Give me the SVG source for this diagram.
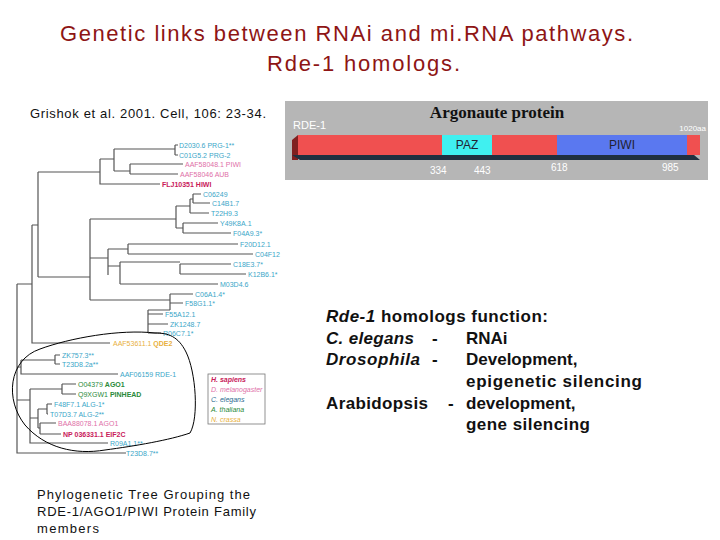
<svg xmlns="http://www.w3.org/2000/svg" width="720" height="540" viewBox="0 0 720 540">
<style>
.t{font-family:"Liberation Sans",Arial,sans-serif}
.tr{stroke:#555;stroke-width:1.2;fill:none}
.l{font-family:"Liberation Sans",Arial,sans-serif;font-size:7px}
.c{fill:#3aa6c8}.d{fill:#e070a8}.h{fill:#c8205a;font-weight:bold}.a{fill:#2a8a3a}.n{fill:#e8b040}
.rt{font-family:"Liberation Sans",Arial,sans-serif;font-size:17px;font-weight:bold;fill:#111}
.w{font-family:"Liberation Sans",Arial,sans-serif;fill:#fff}
</style>
<rect width="720" height="540" fill="#fff"/>
<g id="title" class="t" fill="#8e1515" font-size="22">
<text x="60" y="41" textLength="573" lengthAdjust="spacing">Genetic links between RNAi and mi.RNA pathways.</text>
<text x="267" y="71" textLength="193" lengthAdjust="spacing">Rde-1 homologs.</text>
</g>
<text id="cite" class="t" x="30" y="118" font-size="13" fill="#111" textLength="236" lengthAdjust="spacing">Grishok et al. 2001. Cell, 106: 23-34.</text>
<g id="protein">
<rect x="285" y="101" width="423" height="79" fill="#b6b6b6"/>
<text x="497" y="118" text-anchor="middle" font-family="Liberation Serif,serif" font-weight="bold" font-size="17" fill="#111">Argonaute protein</text>
<text class="w" x="293" y="129" font-size="11">RDE-1</text>
<text class="w" x="706" y="131" font-size="8" text-anchor="end">1020aa</text>
<polygon points="292,140 298,135 298,160 292,160" fill="#802020"/>
<polygon points="292,155 300,160 700,160 694,155" fill="#203040"/>
<rect x="298" y="135" width="402" height="20" fill="#f05050"/>
<rect x="442" y="135" width="50" height="20" fill="#40f0f0"/>
<rect x="557" y="135" width="130" height="20" fill="#5a78f0"/>
<text x="467" y="149" text-anchor="middle" class="t" font-size="12" fill="#223">PAZ</text>
<text x="622" y="149" text-anchor="middle" class="t" font-size="12" fill="#223">PIWI</text>
<g class="w" font-size="10"><text x="430" y="174">334</text><text x="474" y="174">443</text><text x="551" y="171">618</text><text x="662" y="171">985</text></g>
</g>
<g id="tree" class="tr">
<path d="M17,284 V453 H126"/>
<path d="M17,284 H32 M32,225 V343 H110"/>
<path d="M32,225 H38 M38,172 V277"/>
<path d="M38,172 H100 M100,159 V184 H160 M100,159 H114 M114,149 V171 M114,149 H175 M175,145 V155 M175,145 H178 M175,155 H178 M114,171 H130 M130,164 V174 M130,164 H183 M130,174 H178"/>
<path d="M38,277 H90 M90,219 V300"/>
<path d="M90,219 H176 M176,206 V228 M176,206 H190 M190,199 V213 M190,199 H193 M193,194 V203 M193,194 H201 M193,203 H210 M190,213 H209 M176,228 H183 M183,223 V233 M183,223 H218 M183,233 H231"/>
<path d="M90,258 H108 M108,249 V275 M108,249 H128 M128,244 V254 M128,244 H238 M128,254 H253 M108,266 H120 M120,262 V284 M120,262 H180 M180,264 V274 M180,264 H231 M180,274 H246 M120,284 H218"/>
<path d="M90,300 H170 M170,294 V310 M170,294 H193 M170,303 H183 M170,310 H148 M148,310 V333 M148,314 H163 M148,324 H168 M148,333 H161"/>
<path d="M17,367 H21 M21,360 V374 H118 M21,360 H55 M55,355 V364 M55,355 H60 M55,364 H60"/>
<path d="M17,400 H30 M30,389 V443 H108 M30,389 H62 M62,384 V394 M62,384 H76 M62,394 H76"/>
<path d="M30,418 H38 M38,409 V428 M38,409 H47 M47,404 V414 M47,404 H52 M47,414 H48 M38,428 H40 M40,423 V434 M40,423 H56 M40,434 H61"/>
</g>
<g id="tree-labels" class="l">
<text class="c" x="179" y="148">D2030.6 PRG-1**</text>
<text class="c" x="179" y="158">C01G5.2 PRG-2</text>
<text class="d" x="185" y="167">AAF58048.1 PIWI</text>
<text class="d" x="180" y="177">AAF58046 AUB</text>
<text class="h" x="162" y="187">FLJ10351 HIWI</text>
<text class="c" x="203" y="197">C06249</text>
<text class="c" x="212" y="206">C14B1.7</text>
<text class="c" x="211" y="216">T22H9.3</text>
<text class="c" x="220" y="226">Y49K8A.1</text>
<text class="c" x="233" y="236">F04A9.3*</text>
<text class="c" x="240" y="247">F20D12.1</text>
<text class="c" x="255" y="257">C04F12</text>
<text class="c" x="233" y="267">C18E3.7*</text>
<text class="c" x="248" y="277">K12B6.1*</text>
<text class="c" x="220" y="287">M03D4.6</text>
<text class="c" x="195" y="297">C06A1.4*</text>
<text class="c" x="185" y="306">F58G1.1*</text>
<text class="c" x="165" y="317">F55A12.1</text>
<text class="c" x="170" y="327">ZK1248.7</text>
<text class="c" x="163" y="336">R06C7.1*</text>
<text class="n" x="113" y="346">AAF53611.1 <tspan font-weight="bold">QDE2</tspan></text>
<text class="c" x="62" y="358">ZK757.3**</text>
<text class="c" x="62" y="367">T23D8.2a**</text>
<text class="c" x="120" y="377">AAF06159 RDE-1</text>
<text class="a" x="78" y="387">O04379 <tspan font-weight="bold">AGO1</tspan></text>
<text class="a" x="78" y="397">Q9XGW1 <tspan font-weight="bold">PINHEAD</tspan></text>
<text class="c" x="54" y="407">F48F7.1 ALG-1*</text>
<text class="c" x="50" y="417">T07D3.7 ALG-2**</text>
<text class="d" x="58" y="426">BAA88078.1 AGO1</text>
<text class="h" x="63" y="437" font-weight="normal">NP 036331.1 <tspan font-weight="bold">EIF2C</tspan></text>
<text class="c" x="110" y="446">R09A1.1**</text>
<text class="c" x="126" y="456">T23D8.7**</text>
</g>
<path id="outline" d="M155,333 C120,329 70,338 40,349 C8,360 5,400 25,425 C45,448 75,455 105,450 C135,446 170,440 190,433 C199,418 196,372 186,352 C178,336 168,333 155,333 Z" fill="none" stroke="#000" stroke-width="1"/>
<g id="legend" class="l" font-style="italic">
<rect x="208" y="374" width="57" height="50" fill="#fff" stroke="#777" stroke-width="0.8"/>
<text class="h" font-weight="normal" x="211" y="382">H. sapiens</text>
<text class="d" x="211" y="392">D. melanogaster</text>
<text fill="#2a6a90" x="211" y="402">C. elegans</text>
<text class="a" x="211" y="412">A. thaliana</text>
<text class="n" x="211" y="422">N. crassa</text>
</g>
<g id="function" class="rt">
<text x="326" y="322" textLength="222" lengthAdjust="spacing"><tspan font-style="italic">Rde-1</tspan> homologs function:</text>
<text x="326" y="344" font-style="italic" textLength="88" lengthAdjust="spacing">C. elegans</text><text x="432" y="344">-</text><text x="466" y="344">RNAi</text>
<text x="326" y="365" font-style="italic" textLength="94" lengthAdjust="spacing">Drosophila</text><text x="432" y="365">-</text><text x="466" y="365">Development,</text>
<text x="466" y="387" textLength="176" lengthAdjust="spacing">epigenetic silencing</text>
<text x="326" y="409" textLength="102" lengthAdjust="spacing">Arabidopsis</text><text x="448" y="409">-</text><text x="466" y="409">development,</text>
<text x="466" y="430" textLength="124" lengthAdjust="spacing">gene silencing</text>
</g>
<g id="caption" class="t" font-size="13" fill="#111">
<text x="37" y="499" textLength="213" lengthAdjust="spacing">Phylogenetic Tree Grouping the</text>
<text x="37" y="516" textLength="219" lengthAdjust="spacing">RDE-1/AGO1/PIWI Protein Family</text>
<text x="37" y="533" textLength="62" lengthAdjust="spacing">members</text>
</g>
</svg>
